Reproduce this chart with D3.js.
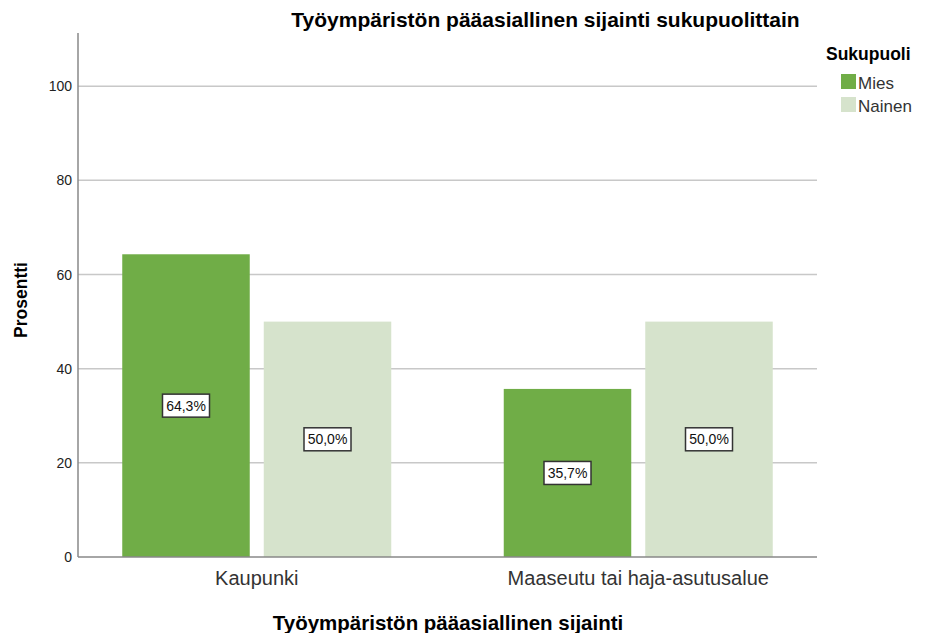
<!DOCTYPE html>
<html>
<head>
<meta charset="utf-8">
<script src="https://cdn.jsdelivr.net/npm/d3@7"></script>
<style>
  body { margin: 0; background: #fff; }
  text { font-family: "Liberation Sans", Arial, sans-serif; }
</style>
</head>
<body>
<svg id="chart" width="929" height="633"></svg>
<script>
// Chart data
const categories = ["Kaupunki", "Maaseutu tai haja-asutusalue"];
const groups = ["Mies", "Nainen"];
const miesValues = [64.3, 35.7];
const nainenValues = [50.0, 50.0];
const yTicks = [0, 20, 40, 60, 80, 100];
const colors = ["#70ad47", "#d6e3cc"];

const svg = d3.select("#chart");

// Plot area
const plotLeft = 78, plotRight = 817, plotTop = 33, plotBottom = 557;

const x = d3.scaleBand().domain(categories).range([66, 829]).padding(0);
const xInner = d3.scaleBand().domain(groups).range([0, 269]).paddingInner(0.099);
const y = d3.scaleLinear().domain([0, 111.3]).range([plotBottom, plotTop]);

// Gridlines
svg.append("g")
  .selectAll("line")
  .data(yTicks.filter((d) => d > 0))
  .enter()
  .append("line")
  .attr("x1", plotLeft)
  .attr("x2", plotRight)
  .attr("y1", (d) => y(d))
  .attr("y2", (d) => y(d))
  .attr("stroke", "#c8c8c8")
  .attr("stroke-width", 1.5);

// Build rows for bars
const rows = [];
categories.forEach((c, i) => {
  rows.push({ cat: c, grp: "Mies", value: miesValues[i] });
  rows.push({ cat: c, grp: "Nainen", value: nainenValues[i] });
});

const barX = (d) => x(d.cat) + (x.bandwidth() - 269) / 2 + xInner(d.grp);

svg.append("g")
  .selectAll("rect")
  .data(rows)
  .enter()
  .append("rect")
  .attr("x", (d) => barX(d))
  .attr("width", xInner.bandwidth())
  .attr("y", (d) => y(d.value))
  .attr("height", (d) => plotBottom - y(d.value))
  .attr("fill", (d) => colors[groups.indexOf(d.grp)]);

// Y axis
const yAxis = svg.append("g")
  .attr("transform", `translate(${plotLeft},0)`)
  .call(d3.axisLeft(y).tickValues(yTicks).tickSize(0).tickPadding(6));
yAxis.select(".domain").remove();
yAxis.selectAll("text")
  .style("font-size", "14px")
  .attr("fill", "#222");

svg.append("line")
  .attr("x1", plotLeft).attr("x2", plotLeft)
  .attr("y1", plotTop).attr("y2", plotBottom)
  .attr("stroke", "#888").attr("stroke-width", 1.5);

// X axis
const xAxis = svg.append("g")
  .attr("transform", `translate(0,${plotBottom})`)
  .call(d3.axisBottom(x).tickSize(0).tickPadding(0));
xAxis.select(".domain").remove();
xAxis.selectAll("text")
  .attr("dy", null)
  .attr("y", 28)
  .style("font-size", "20px")
  .attr("fill", "#333");

svg.append("line")
  .attr("x1", plotLeft).attr("x2", plotRight)
  .attr("y1", plotBottom).attr("y2", plotBottom)
  .attr("stroke", "#888").attr("stroke-width", 1.5);

// Value labels
const labels = svg.append("g")
  .selectAll("g")
  .data(rows)
  .enter()
  .append("g")
  .attr("transform", (d) => `translate(${barX(d) + xInner.bandwidth() / 2},${(y(d.value) + plotBottom) / 2})`);

labels.append("rect")
  .attr("x", -23.5)
  .attr("y", -11.5)
  .attr("width", 47)
  .attr("height", 23)
  .attr("fill", "#fff")
  .attr("stroke", "#333")
  .attr("stroke-width", 1.5);

labels.append("text")
  .attr("text-anchor", "middle")
  .attr("dy", "0.36em")
  .style("font-size", "14px")
  .attr("fill", "#111")
  .text((d) => d.value.toFixed(1).replace(".", ",") + "%");

// Title
svg.append("text")
  .attr("x", 545.5)
  .attr("y", 26.5)
  .attr("text-anchor", "middle")
  .style("font-size", "21px")
  .style("font-weight", "bold")
  .text("Työympäristön pääasiallinen sijainti sukupuolittain");

// Axis titles
svg.append("text")
  .attr("x", 448)
  .attr("y", 630)
  .attr("text-anchor", "middle")
  .style("font-size", "20.5px")
  .style("font-weight", "bold")
  .text("Työympäristön pääasiallinen sijainti");

svg.append("text")
  .attr("transform", "rotate(-90)")
  .attr("x", -300)
  .attr("y", 27)
  .attr("text-anchor", "middle")
  .style("font-size", "17.5px")
  .style("font-weight", "bold")
  .text("Prosentti");

// Legend
svg.append("text")
  .attr("x", 826)
  .attr("y", 60)
  .style("font-size", "17.5px")
  .style("font-weight", "bold")
  .text("Sukupuoli");

const legend = svg.append("g")
  .selectAll("g")
  .data(groups)
  .enter()
  .append("g")
  .attr("transform", (d, i) => `translate(841,${74 + i * 23})`);

legend.append("rect")
  .attr("width", 15)
  .attr("height", 15)
  .attr("fill", (d, i) => colors[i]);

legend.append("text")
  .attr("x", 17)
  .attr("y", 15)
  .style("font-size", "17px")
  .attr("fill", "#333")
  .text((d) => d);
</script>
</body>
</html>
